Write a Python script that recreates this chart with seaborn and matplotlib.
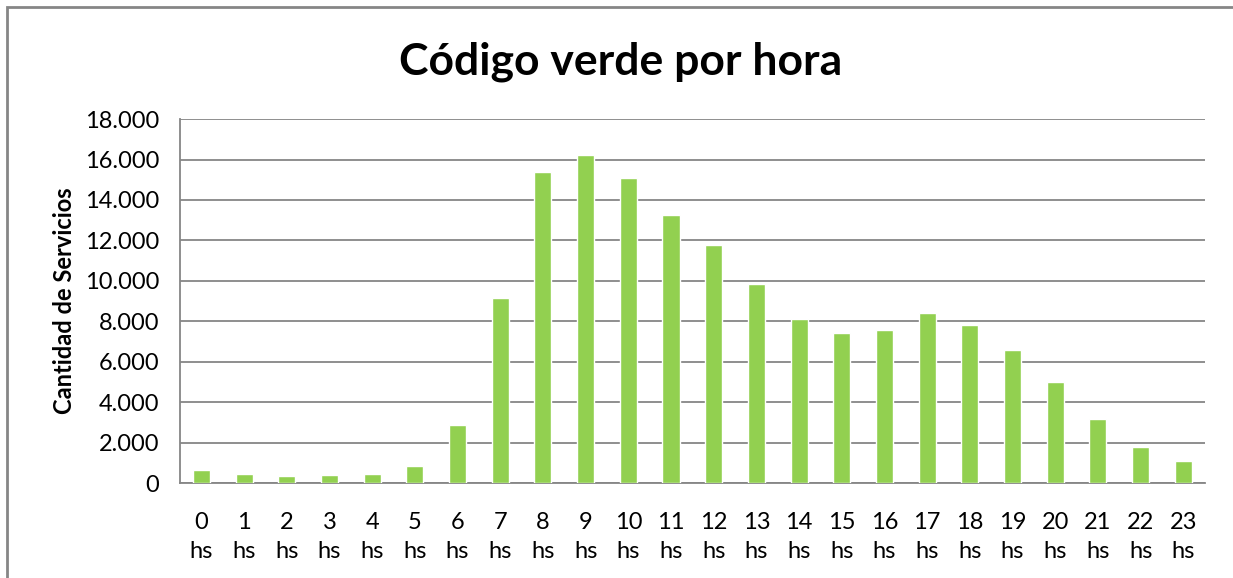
import seaborn as sns
import pandas as pd
import matplotlib.pyplot as plt
from matplotlib.patches import Rectangle

# Data
horas = [f"{h}\nhs" for h in range(24)]
servicios = [640, 450, 350, 400, 450, 840, 2870, 9150, 15390, 16230, 15090, 13250,
             11760, 9840, 8110, 7420, 7570, 8410, 7810, 6580, 4990, 3160, 1780, 1090]
y_ticks = [0, 2000, 4000, 6000, 8000, 10000, 12000, 14000, 16000, 18000]

df = pd.DataFrame({'Hora': horas, 'Servicios': servicios})

sns.set_style('white')
plt.rcParams['font.family'] = ['Lato', 'DejaVu Sans']
plt.rcParams['text.color'] = 'black'
plt.rcParams['xtick.color'] = 'black'
plt.rcParams['ytick.color'] = 'black'
plt.rcParams['axes.labelcolor'] = 'black'

fig = plt.figure(figsize=(12.33, 5.78), dpi=100)
ax = fig.add_axes([0.146, 0.164, 0.831, 0.630])

sns.barplot(x='Hora', y='Servicios', data=df, color='#92D050', width=0.4,
            saturation=1, ax=ax, zorder=3)

ax.set_ylim(0, 18000)
ax.set_yticks(y_ticks)
ax.set_yticklabels([f"{v:,}".replace(',', '.') for v in y_ticks], fontsize=17)
ax.set_xticks(range(24))
ax.set_xticklabels(horas, fontsize=17, linespacing=1.45)
ax.tick_params(axis='x', length=0, pad=21)
ax.tick_params(axis='y', length=0, pad=15)
ax.set_xlim(-0.5, 23.5)
ax.grid(axis='y', color='#868686', linewidth=1.3, zorder=0)
for s in ['top', 'right']:
    ax.spines[s].set_visible(False)
for s in ['left', 'bottom']:
    ax.spines[s].set_color('#868686')
    ax.spines[s].set_linewidth(1.3)

ax.set_xlabel('')
ax.set_ylabel('Cantidad de Servicios', fontsize=17, fontweight='bold', labelpad=6)
fig.text(0.503, 0.893, 'Código verde por hora', ha='center', va='center',
         fontsize=32, fontweight='bold')

# outer chart border
fig.patches.append(Rectangle((0.006, -0.05), 1.1, 1.038, transform=fig.transFigure,
                             fill=False, edgecolor='#868686', linewidth=2))

fig.savefig('out.png', dpi=100)
